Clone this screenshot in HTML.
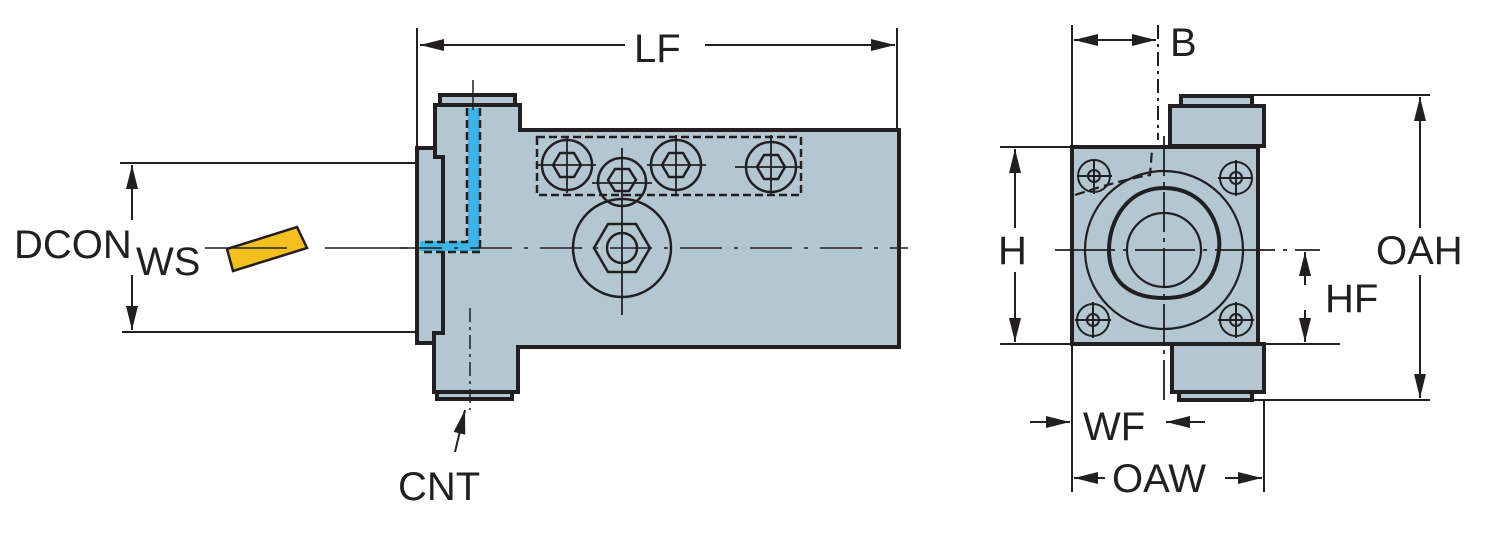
<!DOCTYPE html>
<html><head><meta charset="utf-8"><style>
html,body{margin:0;padding:0;background:#fff}
svg{display:block}
text{font-family:"Liberation Sans",Arial,sans-serif;fill:#231f20}
</style></head><body>
<svg width="1500" height="534" viewBox="0 0 1500 534" xmlns="http://www.w3.org/2000/svg">
<defs>
<marker id="b" viewBox="0 0 24 12" refX="24" refY="6" markerWidth="24" markerHeight="12" markerUnits="userSpaceOnUse" orient="auto-start-reverse"><path d="M0,0 L24,6 L0,12 z" fill="#231f20"/></marker>
</defs>
<g stroke="#231f20" fill="none" stroke-width="2">
<line x1="417" y1="28" x2="417" y2="160"/>
<line x1="897" y1="28" x2="897" y2="128"/>
<line x1="420" y1="45" x2="625" y2="45" marker-start="url(#b)"/>
<line x1="705" y1="45" x2="895" y2="45" marker-end="url(#b)"/>
<line x1="120" y1="163" x2="416" y2="163"/>
<line x1="122" y1="332" x2="416" y2="332"/>
<line x1="132" y1="165" x2="132" y2="220" marker-start="url(#b)"/>
<line x1="132" y1="275" x2="132" y2="330" marker-end="url(#b)"/>
<line x1="205" y1="248" x2="287" y2="248" stroke-width="1.5"/>
<line x1="325" y1="248" x2="408" y2="248" stroke-width="1.5"/>
</g>
<polygon points="227,249 297,227 307,248 233,271" fill="#f4c020" stroke="#231f20" stroke-width="2.5"/>
<line x1="233" y1="248" x2="287" y2="248" stroke="#231f20" stroke-width="1.5"/>

<g stroke="#231f20" stroke-width="4" fill="#b3c7d3">
<rect x="440" y="95" width="75" height="10"/>
<rect x="437" y="392" width="75" height="7"/>
<polygon points="417,148 436,148 436,157 443,157 443,333 436,333 436,343 417,343"/>
<polygon points="435,105 520,105 520,130 899,130 899,347 518,347 518,392 434,392 434,333 443,333 443,157 435,157"/>
</g>
<rect x="468" y="108" width="12" height="140" fill="#3cb4e5"/>
<rect x="420" y="241" width="60" height="10" fill="#3cb4e5"/>
<g stroke="#231f20" stroke-width="2.5" fill="none" stroke-dasharray="8,4">
<polyline points="467,108 467,242 421,242"/>
<polyline points="480,108 480,252 421,252"/>
<rect x="537" y="137" width="264" height="58"/>
</g>
<g stroke="#231f20" stroke-width="1.5" fill="none">
<line x1="473" y1="80" x2="473" y2="110"/>
<line x1="470" y1="308" x2="470" y2="410" stroke-dasharray="14,5,3,5"/>
<line x1="400" y1="248" x2="908" y2="248" stroke-dasharray="42,12,4,12"/>
</g>
<g stroke="#231f20" stroke-width="2.5" fill="none">
<circle cx="567" cy="165" r="25"/><polygon points="553,165 560,153 574,153 581,165 574,177 560,177"/>
<line x1="538" y1="165" x2="596" y2="165" stroke-width="1.8"/><line x1="567" y1="137" x2="567" y2="193" stroke-width="1.8"/>
<circle cx="622" cy="182" r="24"/><polygon points="608,180 615,169 629,169 636,180 629,191 615,191"/>
<line x1="592" y1="183" x2="652" y2="183" stroke-width="1.8"/><line x1="622" y1="148" x2="622" y2="315" stroke-width="1.8"/>
<circle cx="676" cy="165" r="25"/><polygon points="662,165 669,153 683,153 690,165 683,177 669,177"/>
<line x1="647" y1="165" x2="706" y2="165" stroke-width="1.8"/><line x1="676" y1="135" x2="676" y2="195" stroke-width="1.8"/>
<circle cx="771" cy="167" r="25"/><polygon points="757,167 764,155 778,155 785,167 778,179 764,179"/>
<line x1="735" y1="167" x2="800" y2="167" stroke-width="1.8"/><line x1="771" y1="135" x2="771" y2="195" stroke-width="1.8"/>
<circle cx="622" cy="248" r="49"/>
<polygon points="594,248 608,224 636,224 650,248 636,272 608,272"/>
<circle cx="622" cy="248" r="15"/>
</g>
<line x1="455" y1="452" x2="465" y2="410" stroke="#231f20" stroke-width="2" marker-end="url(#b)"/>
<text x="398" y="500" font-size="40">CNT</text>
<text x="634" y="62" font-size="40">LF</text>
<text x="14" y="258" font-size="40">DCON</text>
<text x="136" y="275" font-size="40">WS</text>

<g stroke="#231f20" fill="none" stroke-width="2">
<line x1="1072" y1="25" x2="1072" y2="492"/>
<line x1="1158" y1="25" x2="1158" y2="140" stroke-dasharray="14,5,3,5"/>
<line x1="1074" y1="40" x2="1156" y2="40" marker-start="url(#b)" marker-end="url(#b)"/>
<line x1="1000" y1="147" x2="1072" y2="147"/>
<line x1="1000" y1="344" x2="1340" y2="344"/>
<line x1="1015" y1="149" x2="1015" y2="228" marker-start="url(#b)"/>
<line x1="1015" y1="272" x2="1015" y2="342" marker-end="url(#b)"/>
<line x1="1250" y1="95" x2="1430" y2="95"/>
<line x1="1250" y1="400" x2="1430" y2="400"/>
<line x1="1420" y1="97" x2="1420" y2="228" marker-start="url(#b)"/>
<line x1="1420" y1="275" x2="1420" y2="398" marker-end="url(#b)"/>
<line x1="1305" y1="252" x2="1305" y2="285" marker-start="url(#b)"/>
<line x1="1305" y1="310" x2="1305" y2="342" marker-end="url(#b)"/>
<line x1="1264" y1="400" x2="1264" y2="492"/>
<line x1="1030" y1="422" x2="1070" y2="422" marker-end="url(#b)"/>
<line x1="1205" y1="422" x2="1166" y2="422" marker-end="url(#b)"/>
<line x1="1074" y1="478" x2="1105" y2="478" marker-start="url(#b)"/>
<line x1="1225" y1="478" x2="1262" y2="478" marker-end="url(#b)"/>
</g>
<g stroke="#231f20" stroke-width="4" fill="#b3c7d3">
<rect x="1181" y="96" width="71" height="10"/>
<rect x="1170" y="106" width="94" height="40"/>
<rect x="1172" y="344" width="92" height="48"/>
<rect x="1179" y="392" width="73" height="8"/>
<rect x="1072" y="147" width="186" height="197"/>
</g>
<g stroke="#231f20" stroke-width="2.2" fill="none">
<circle cx="1164" cy="250" r="79"/>
<path d="M1164,188 C1205,188 1222,225 1219,250 C1215,285 1195,298 1164,298 C1128,298 1109,280 1109,250 C1109,220 1128,188 1164,188 Z" stroke-width="4"/>
<circle cx="1164" cy="250" r="37"/>
<line x1="1055" y1="250" x2="1320" y2="250" stroke-dasharray="60,8,4,8" stroke-width="1.8"/>
<line x1="1164" y1="136" x2="1164" y2="400" stroke-dasharray="40,6,4,6" stroke-width="1.8"/>
<path d="M1075,195 Q1120,180 1150,175 L1152,150" stroke-dasharray="10,5"/>
<g stroke-width="2">
<circle cx="1094" cy="176" r="16"/><circle cx="1094" cy="176" r="6"/><line x1="1078" y1="176" x2="1112" y2="176"/><line x1="1094" y1="160" x2="1094" y2="194"/>
<circle cx="1236" cy="178" r="16"/><circle cx="1236" cy="178" r="6"/><line x1="1218" y1="178" x2="1252" y2="178"/><line x1="1236" y1="160" x2="1236" y2="196"/>
<circle cx="1093" cy="320" r="16"/><circle cx="1093" cy="320" r="6"/><line x1="1075" y1="320" x2="1111" y2="320"/><line x1="1093" y1="302" x2="1093" y2="338"/>
<circle cx="1236" cy="320" r="16"/><circle cx="1236" cy="320" r="6"/><line x1="1218" y1="320" x2="1254" y2="320"/><line x1="1236" y1="302" x2="1236" y2="338"/>
</g>
</g>
<text x="1170" y="56" font-size="40">B</text>
<text x="998" y="264" font-size="40">H</text>
<text x="1376" y="264" font-size="40">OAH</text>
<text x="1325" y="312" font-size="40">HF</text>
<text x="1083" y="440" font-size="40">WF</text>
<text x="1112" y="492" font-size="40">OAW</text>
</svg>
</body></html>
